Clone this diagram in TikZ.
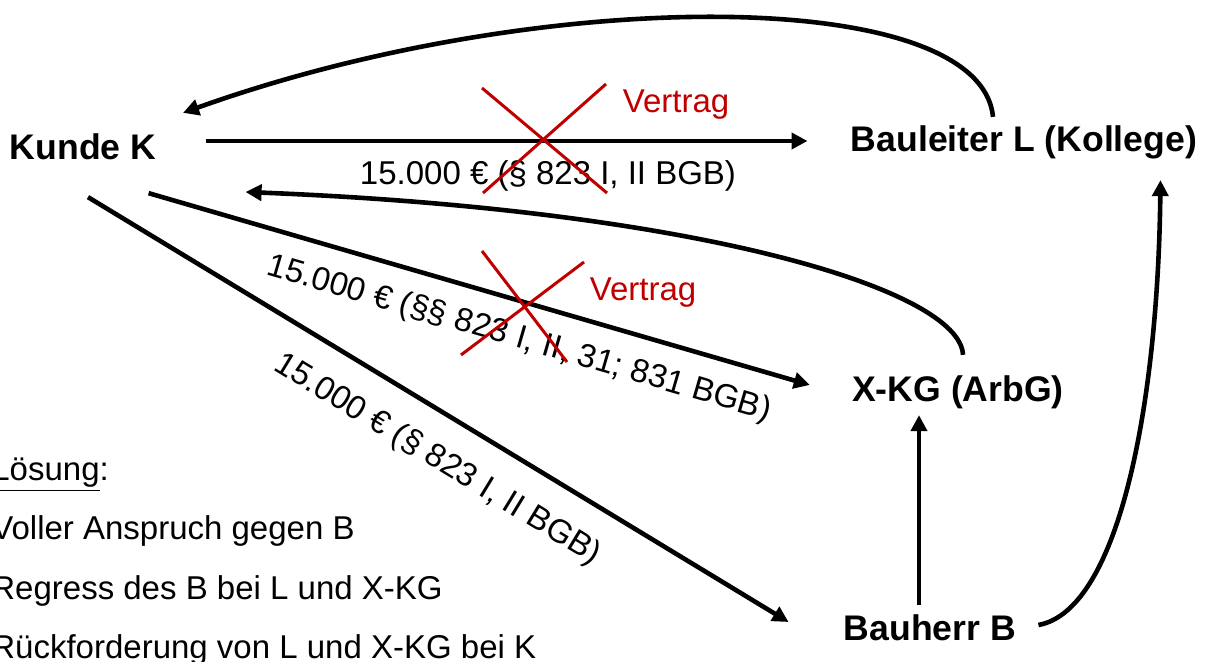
\documentclass[tikz,border=0pt]{standalone}
\usepackage{fontspec}
\setmainfont{Liberation Sans}
\usetikzlibrary{arrows.meta,calc}
\definecolor{vred}{HTML}{C00000}
\begin{document}
\begin{tikzpicture}[x=0.5pt,y=-0.5pt,
  party/.style={inner sep=0pt, font=\fontsize{17.8pt}{20pt}\selectfont\bfseries, text height=12.75pt, text depth=0pt},
  lbl/.style={inner sep=0pt, font=\fontsize{16.5pt}{19pt}\selectfont, text height=11.8pt, text depth=0pt},
  note/.style={inner sep=0pt, anchor=base west, font=\fontsize{16.5pt}{19pt}\selectfont},
  arr/.style={line width=2.3pt, -{Triangle[length=8pt,width=8pt]}},
  crossline/.style={draw=vred, line width=1.5pt}]
\useasboundingbox (0,0) rectangle (1211,662);

% parties
\node[party] (K) at (83,147) {Kunde K};
\node[party] (L) at (1024,139) {Bauleiter L (Kollege)};
\node[party] (X) at (958,389) {X-KG (ArbG)};
\node[party] (B) at (930,628) {Bauherr B};

% connectors
\draw[arr] ($(K.east)+(49,-6)$) -- ($(L.west)+(-43,2)$);
\draw[arr] ($(L.north)+(-31,-9)$) .. controls (980,-15) and (540,-15) .. ($(K.north)+(100,-21)$);
\draw[arr] ($(X.north)+(5,-21)$) .. controls (960,290) and (700,210) .. ($(K.east)+(89,45)$);
\draw[arr] ($(K.south east)+(-8,33)$) -- ($(X.west)+(-42,-4)$);
\draw[arr] ($(K.south)+(5,37)$) -- ($(B.west)+(-55,-6)$);
\draw[arr] ($(B.north)+(-11,-10)$) -- ($(X.south)+(-39,13)$);
\draw[arr] ($(B.east)+(22,-3)$) .. controls (1120,610) and (1158,400) .. ($(L.south east)+(-37,28)$);

% labels
\node[lbl] (l1) at (548,173) {15.000 € (§ 823 I, II BGB)};
\node[lbl, rotate=-16.2] (l4) at (520,336) {15.000 € (§§ 823 I, II, 31; 831 BGB)};
\node[lbl, rotate=-31.4] (l5) at (439,457) {15.000 € (§ 823 I, II BGB)};
\node[lbl, text=vred] (v1) at (676,101) {Vertrag};
\node[lbl, text=vred] (v2) at (643,289) {Vertrag};

% crosses
\draw[crossline] (482,88) -- (607,193) (606,84) -- (483,193);
\draw[crossline] (482,251) -- (567,362) (584,262) -- (461,355);

% solution
\node[note] (s0) at (-9,481) {\underline{Lösung}:};
\node[note] (s1) at (-9,540) {Voller Anspruch gegen B};
\node[note] (s2) at (-9,600) {Regress des B bei L und X-KG};
\node[note] (s3) at (-9,659) {Rückforderung von L und X-KG bei K};
\end{tikzpicture}
\end{document}
